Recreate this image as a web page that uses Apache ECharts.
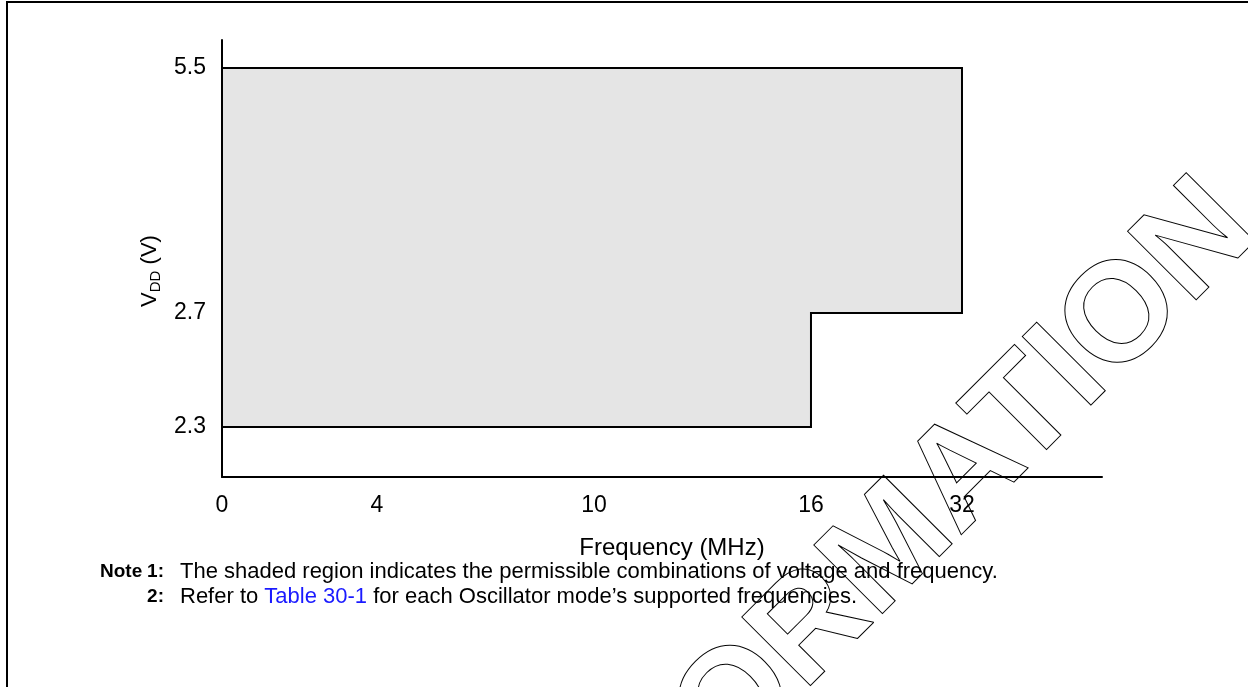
<!DOCTYPE html>
<html>
<head>
<meta charset="utf-8">
<script src="https://cdn.jsdelivr.net/npm/echarts@6/dist/echarts.min.js"></script>
<style>
  html, body { margin: 0; padding: 0; background: #fff; }
  #chart { width: 1248px; height: 687px; }
</style>
</head>
<body>
<div id="chart"></div>
<script>
// tick labels on both axes
const freqTicks = [0, 4, 10, 16, 32];
const voltTicks = [2.3, 2.7, 5.5];

// outline of the permitted region (frequency MHz, VDD volts)
const regionFreq = [0, 16, 16, 32, 32, 0];
const regionVolt = [2.3, 2.3, 2.7, 2.7, 5.5, 5.5];

// the axes are not linear: where each tick sits along its axis (0..1)
const freqStops = [0, 0.1761, 0.4227, 0.6693, 0.8409];
const voltStops = [0.1144, 0.3753, 0.9359];

const FONT = '"Liberation Sans", Arial, sans-serif';

function interp(v, vals, stops) {
    for (let i = 0; i < vals.length - 1; i++) {
        if (v <= vals[i + 1]) {
            const t = (v - vals[i]) / (vals[i + 1] - vals[i]);
            return stops[i] + t * (stops[i + 1] - stops[i]);
        }
    }
    return stops[stops.length - 1];
}
function nearestLabel(v, stops, labels) {
    let best = 0;
    stops.forEach((s, i) => { if (Math.abs(s - v) < Math.abs(stops[best] - v)) best = i; });
    return String(labels[best]);
}

const chart = echarts.init(document.getElementById('chart'));
const option = {
    backgroundColor: '#fff',
    animation: false,
    grid: { left: 222, right: 146, top: 40, bottom: 210 },
    xAxis: {
        type: 'value',
        min: 0,
        max: 1,
        name: 'Frequency (MHz)',
        nameLocation: 'middle',
        nameGap: 59,
        nameTextStyle: { fontFamily: FONT, fontSize: 24, color: '#000', padding: [0, 0, 0, 20] },
        axisLine: { show: true, lineStyle: { color: '#000', width: 2 } },
        axisTick: { show: false },
        splitLine: { show: false },
        axisLabel: {
            customValues: freqStops,
            margin: 17,
            fontFamily: FONT,
            fontSize: 23,
            color: '#000',
            formatter: v => nearestLabel(v, freqStops, freqTicks)
        }
    },
    yAxis: {
        type: 'value',
        min: 0,
        max: 1,
        name: '{v|V}{s|DD}{v| (V)}',
        nameLocation: 'middle',
        nameRotate: 90,
        nameGap: 55,
        nameTextStyle: {
            padding: [0, 25, 0, 0],
            rich: {
                v: { fontFamily: FONT, fontSize: 22, color: '#000', lineHeight: 26 },
                s: { fontFamily: FONT, fontSize: 15, color: '#000', lineHeight: 26, verticalAlign: 'bottom', padding: [6, 0, 0, 0] }
            }
        },
        axisLine: { show: true, lineStyle: { color: '#000', width: 2 } },
        axisTick: { show: false },
        splitLine: { show: false },
        axisLabel: {
            customValues: voltStops,
            margin: 16,
            fontFamily: FONT,
            fontSize: 23,
            color: '#000',
            formatter: v => nearestLabel(v, voltStops, voltTicks)
        }
    },
    series: [
        {
            type: 'custom',
            silent: true,
            data: [[0, 0]],
            renderItem: function (params, api) {
                const pts = regionFreq.map((f, i) =>
                    api.coord([interp(f, freqTicks, freqStops), interp(regionVolt[i], voltTicks, voltStops)]));
                return {
                    type: 'polygon',
                    shape: { points: pts },
                    style: { fill: '#e5e5e5', stroke: '#000', lineWidth: 2 }
                };
            }
        }
    ],
    graphic: [
        // page frame (top and left edges)
        {
            type: 'polyline',
            shape: { points: [[7, 687], [7, 2], [1248, 2]] },
            style: { stroke: '#000', lineWidth: 2, fill: null }
        },
        { type: 'text', x: 100, y: 572, style: { text: 'Note', font: 'bold 19px ' + FONT, fill: '#000', align: 'left', verticalAlign: 'middle', textAlign: 'left', textVerticalAlign: 'middle' } },
        { type: 'text', x: 164, y: 572, style: { text: '1:', font: 'bold 19px ' + FONT, fill: '#000', align: 'right', verticalAlign: 'middle', textAlign: 'right', textVerticalAlign: 'middle' } },
        { type: 'text', x: 180, y: 572, style: { text: 'The shaded region indicates the permissible combinations of voltage and frequency.', font: '22px ' + FONT, fill: '#000', align: 'left', verticalAlign: 'middle', textAlign: 'left', textVerticalAlign: 'middle' } },
        { type: 'text', x: 164, y: 597, style: { text: '2:', font: 'bold 19px ' + FONT, fill: '#000', align: 'right', verticalAlign: 'middle', textAlign: 'right', textVerticalAlign: 'middle' } },
        {
            type: 'text', x: 180, y: 597,
            style: {
                text: '{t|Refer to }{l|Table 30-1}{t| for each Oscillator mode\u2019s supported frequencies.}',
                align: 'left', verticalAlign: 'middle', textAlign: 'left', textVerticalAlign: 'middle',
                rich: {
                    t: { font: '22px ' + FONT, fill: '#000', color: '#000' },
                    l: { font: '22px ' + FONT, fill: '#1a1aff', color: '#1a1aff' }
                }
            }
        },
        // outlined watermark
        {
            type: 'text', x: 1234, y: 207, rotation: Math.PI / 4, z: 100, silent: true,
            style: {
                text: 'INFORMATION',
                font: 'bold 141px ' + FONT,
                fill: 'none', stroke: '#000', lineWidth: 1,
                align: 'right', verticalAlign: 'middle', textAlign: 'right', textVerticalAlign: 'middle'
            }
        }
    ]
};
chart.setOption(option);
</script>
</body>
</html>
